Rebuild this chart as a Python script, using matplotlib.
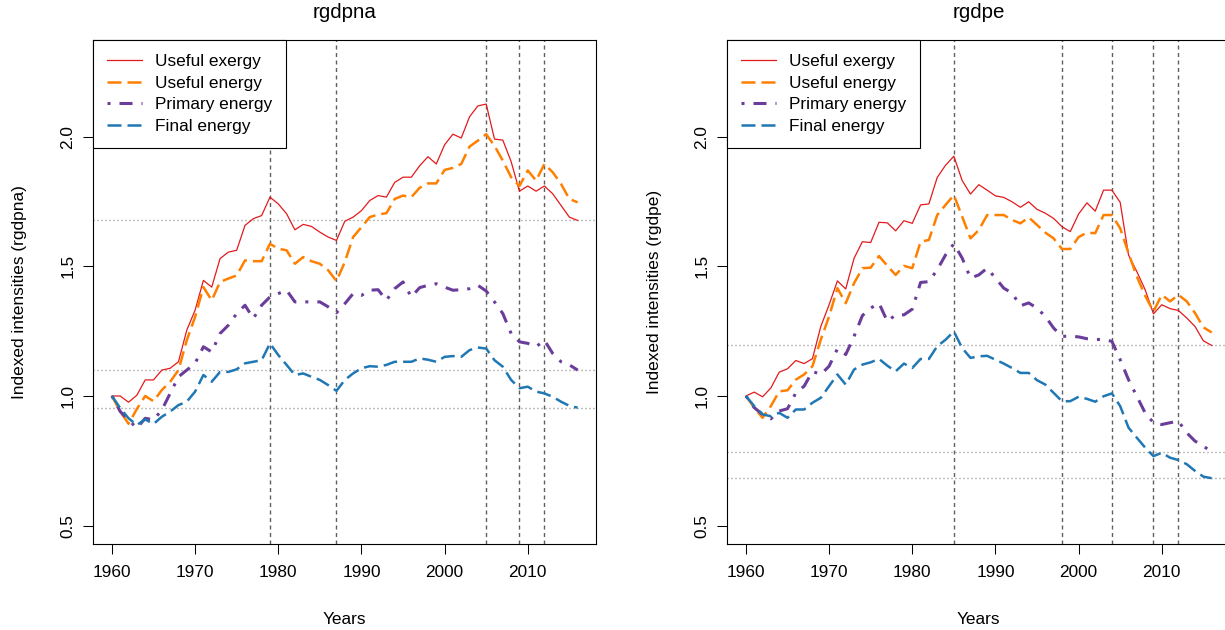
import matplotlib
matplotlib.use("Agg")
import matplotlib.pyplot as plt
import numpy as np

plt.rcParams['font.family'] = ['Liberation Sans', 'DejaVu Sans']
plt.rcParams['lines.scale_dashes'] = False

years = list(range(1960, 2017))

# ---- rgdpna panel ----
na_useful_exergy = [1.000,1.000,0.976,1.003,1.062,1.062,1.100,1.107,1.132,1.254,
                    1.331,1.446,1.420,1.530,1.555,1.562,1.658,1.684,1.696,1.767,
                    1.741,1.703,1.641,1.662,1.654,1.632,1.613,1.600,1.674,1.690,
                    1.715,1.754,1.773,1.767,1.824,1.844,1.844,1.888,1.923,1.895,
                    1.969,2.010,1.995,2.077,2.119,2.126,1.991,1.987,1.904,1.790,
                    1.810,1.790,1.810,1.780,1.735,1.690,1.677]
na_useful_energy = [1.000,0.940,0.893,0.950,1.000,0.980,1.023,1.055,1.100,1.215,
                    1.305,1.420,1.369,1.440,1.453,1.465,1.523,1.520,1.520,1.587,
                    1.568,1.562,1.510,1.536,1.520,1.510,1.485,1.443,1.517,1.613,
                    1.651,1.690,1.700,1.705,1.760,1.773,1.767,1.803,1.820,1.820,
                    1.872,1.880,1.895,1.962,1.985,2.010,1.965,1.908,1.844,1.810,
                    1.870,1.831,1.895,1.863,1.818,1.760,1.747]
na_primary_energy = [1.000,0.940,0.908,0.876,0.914,0.908,0.946,1.010,1.074,1.100,
                     1.126,1.190,1.170,1.241,1.273,1.318,1.350,1.299,1.350,1.382,
                     1.395,1.408,1.363,1.363,1.363,1.363,1.344,1.321,1.356,1.395,
                     1.388,1.408,1.410,1.369,1.414,1.440,1.382,1.418,1.427,1.433,
                     1.420,1.408,1.410,1.414,1.427,1.405,1.363,1.318,1.241,1.209,
                     1.203,1.190,1.215,1.164,1.132,1.120,1.100]
na_final_energy = [1.000,0.953,0.914,0.888,0.910,0.892,0.920,0.940,0.965,0.978,
                   1.017,1.081,1.055,1.093,1.093,1.103,1.126,1.132,1.138,1.203,
                   1.158,1.120,1.081,1.087,1.074,1.062,1.042,1.020,1.062,1.087,
                   1.107,1.115,1.113,1.120,1.132,1.132,1.132,1.145,1.140,1.132,
                   1.151,1.154,1.151,1.177,1.187,1.183,1.138,1.113,1.062,1.030,
                   1.036,1.017,1.010,0.997,0.978,0.962,0.955]
na_breaks = [1979, 1987, 2005, 2009, 2012]

# ---- rgdpe panel ----
e_useful_exergy = [1.000,1.015,0.997,1.031,1.092,1.105,1.137,1.125,1.144,1.268,
                   1.352,1.444,1.413,1.531,1.595,1.592,1.670,1.668,1.637,1.676,
                   1.666,1.737,1.741,1.843,1.890,1.925,1.831,1.779,1.815,1.794,
                   1.772,1.766,1.749,1.728,1.749,1.720,1.705,1.685,1.653,1.634,
                   1.702,1.745,1.713,1.794,1.794,1.747,1.544,1.480,1.410,1.317,
                   1.352,1.337,1.330,1.301,1.268,1.213,1.195]
e_useful_energy = [1.000,0.955,0.916,0.961,1.018,1.022,1.063,1.083,1.115,1.217,
                   1.307,1.416,1.358,1.435,1.493,1.495,1.540,1.502,1.467,1.502,
                   1.493,1.595,1.602,1.698,1.737,1.775,1.692,1.608,1.640,1.698,
                   1.698,1.698,1.679,1.666,1.689,1.660,1.630,1.608,1.567,1.567,
                   1.613,1.630,1.628,1.698,1.698,1.647,1.551,1.461,1.387,1.326,
                   1.390,1.365,1.390,1.365,1.320,1.265,1.245]
e_primary_energy = [1.000,0.955,0.929,0.912,0.942,0.951,1.012,1.038,1.095,1.083,
                    1.115,1.182,1.160,1.230,1.310,1.339,1.358,1.288,1.313,1.313,
                    1.335,1.438,1.441,1.487,1.544,1.587,1.532,1.455,1.467,1.493,
                    1.455,1.416,1.397,1.348,1.359,1.339,1.307,1.262,1.230,1.231,
                    1.228,1.221,1.218,1.218,1.211,1.140,1.063,0.999,0.935,0.897,
                    0.890,0.897,0.903,0.858,0.826,0.807,0.784]
e_final_energy = [1.000,0.961,0.929,0.922,0.935,0.916,0.948,0.948,0.974,0.993,
                  1.038,1.083,1.044,1.102,1.121,1.130,1.143,1.117,1.095,1.125,
                  1.108,1.143,1.143,1.192,1.217,1.249,1.185,1.147,1.153,1.155,
                  1.140,1.125,1.108,1.089,1.089,1.061,1.044,1.012,0.980,0.980,
                  0.997,0.989,0.978,0.999,1.010,0.961,0.878,0.839,0.801,0.768,
                  0.781,0.762,0.753,0.737,0.711,0.689,0.683]
e_breaks = [1985, 1998, 2004, 2009, 2012]

series_labels = ["Useful exergy", "Useful energy", "Primary energy", "Final energy"]
colors = ["#E31A1C", "#FF7F00", "#6A3D9A", "#1F78B4"]
xticks = [1960, 1970, 1980, 1990, 2000, 2010]
yticks = [0.5, 1.0, 1.5, 2.0]

PX = 0.72  # points per pixel at dpi 100
styles = [
    dict(lw=0.9, ls='-'),
    dict(lw=1.8, dashes=(14 * PX, 6 * PX)),
    dict(lw=2.2, dashes=(3 * PX, 9 * PX, 13 * PX, 9 * PX)),
    dict(lw=1.8, dashes=(14 * PX, 6 * PX)),
]

FS = 12.4
W, H = 1225, 630
fig = plt.figure(figsize=(W / 100, H / 100), dpi=100)


def make_panel(left_px, title, ylabel, data, breaks, hide_right=False):
    ax = fig.add_axes([left_px / W, 1 - 544.3 / H, 503 / W, 504 / H])
    ax.set_xlim(1957.76, 2018.24)
    ax.set_ylim(0.428, 2.372)
    # reference lines
    for b in breaks:
        ax.axvline(b, color='#606060', lw=1.0, dashes=(4 * PX, 3.5 * PX), zorder=1)
    for idx in (0, 2, 3):
        ax.axhline(data[idx][-1], color='#808080', lw=1.0,
                   dashes=(1 * PX, 3 * PX), zorder=1)
    handles = []
    for vals, c, st, lab in zip(data, colors, styles, series_labels):
        kw = dict(color=c, lw=st['lw'], zorder=3, label=lab,
                  solid_joinstyle='round', dash_joinstyle='round')
        if 'dashes' in st:
            line, = ax.plot(years, vals, dashes=st['dashes'], **kw)
        else:
            line, = ax.plot(years, vals, ls='-', **kw)
        handles.append(line)
    ax.set_xticks(xticks)
    ax.set_yticks(yticks)
    ax.set_yticklabels([f"{v:.1f}" for v in yticks], rotation=90, va='center')
    ax.tick_params(axis='both', direction='out', length=7, width=0.75,
                   labelsize=FS, colors='black')
    ax.tick_params(axis='x', pad=8)
    ax.tick_params(axis='y', pad=6)
    for s in ax.spines.values():
        s.set_linewidth(0.8)
        s.set_color('black')
    if hide_right:
        ax.spines['right'].set_visible(False)
    ax.set_xlabel("Years", fontsize=FS)
    ax.xaxis.label.set_va('center')
    ax.xaxis.set_label_coords(0.5, -(619 - 544.3) / 504)
    ax.set_ylabel(ylabel, fontsize=FS)
    ax.yaxis.label.set_va('center')
    ax.yaxis.set_label_coords(-73.3 / 503, 0.5)
    ax.text(0.5, 1 + (40.3 - 12) / 504, title, transform=ax.transAxes,
            ha='center', va='center', fontsize=14.8)
    leg = ax.legend(handles=handles, loc='upper left', bbox_to_anchor=(0, 1),
                    borderaxespad=0, fancybox=False, framealpha=1,
                    edgecolor='black', fontsize=FS, handlelength=2.0,
                    handletextpad=0.8, borderpad=0.8, labelspacing=0.38)
    leg.get_frame().set_linewidth(0.8)
    leg.set_zorder(5)
    return ax


make_panel(93.3, "rgdpna", "Indexed intensities (rgdpna)",
           [na_useful_exergy, na_useful_energy, na_primary_energy, na_final_energy],
           na_breaks)
make_panel(727.3, "rgdpe", "Indexed intensities (rgdpe)",
           [e_useful_exergy, e_useful_energy, e_primary_energy, e_final_energy],
           e_breaks, hide_right=True)

fig.savefig("out.png", dpi=100)
